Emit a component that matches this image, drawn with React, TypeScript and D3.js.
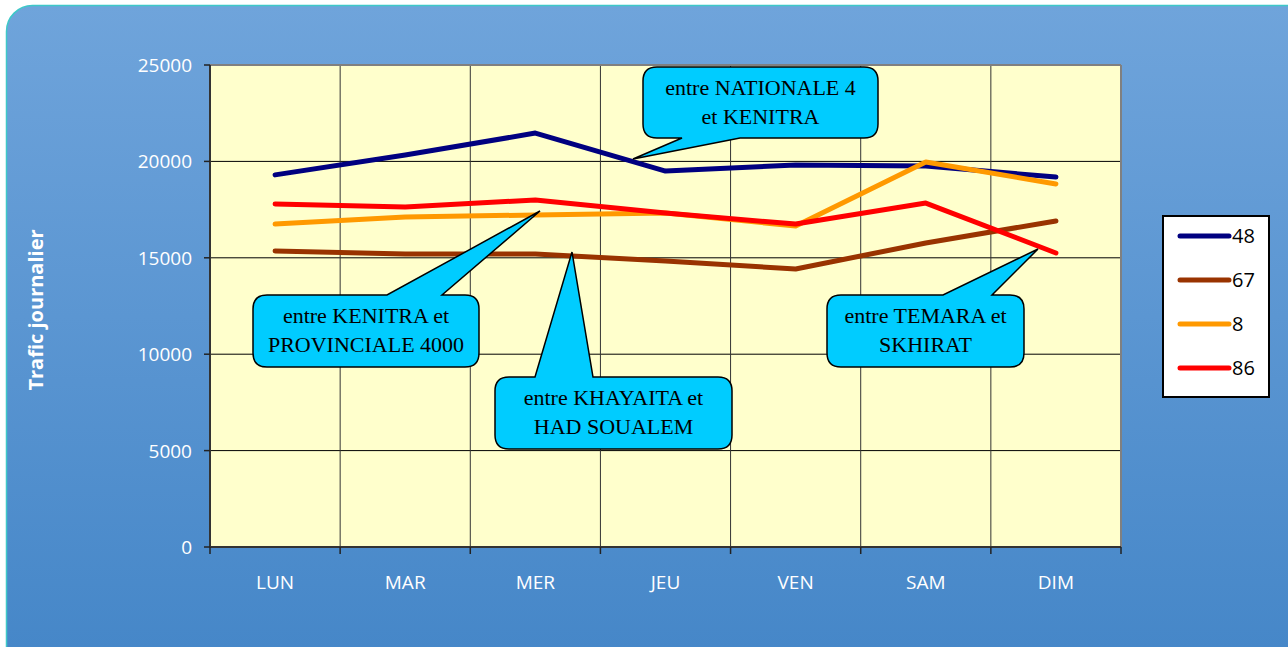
import React from "react";
import * as d3 from "d3";

const categories = ["LUN", "MAR", "MER", "JEU", "VEN", "SAM", "DIM"];
const seriesNames = ["48", "67", "8", "86"];
const values48 = [19300, 20330, 21470, 19500, 19810, 19760, 19190];
const values67 = [15350, 15200, 15200, 14830, 14420, 15770, 16910];
const values8 = [16750, 17120, 17220, 17320, 16650, 19970, 18830];
const values86 = [17790, 17630, 18000, 17320, 16750, 17840, 15250];
const yTicks = [0, 5000, 10000, 15000, 20000, 25000];
const yTitle = "Trafic journalier";
const calloutTexts = [
  ["entre NATIONALE 4", "et KENITRA"],
  ["entre KENITRA et", "PROVINCIALE 4000"],
  ["entre KHAYAITA et", "HAD SOUALEM"],
  ["entre TEMARA et", "SKHIRAT"],
];

const seriesValues = [values48, values67, values8, values86];
const colors = ["#000080", "#993300", "#FF9900", "#FF0000"];

const W = 1288;
const H = 647;
const plot = { left: 210, right: 1121, top: 65, bottom: 547 };

// callout layout: box [x0,y0,x1,y1], pointer base on edge, tip
const calloutLayout = [
  { box: [643, 67, 878, 138], edge: "bottom", b1: 682, b2: 740, tip: [633, 159] },
  { box: [253, 295, 479, 367], edge: "top", b1: 387, b2: 442, tip: [540, 211] },
  { box: [495, 377, 732, 449], edge: "top", b1: 535, b2: 593, tip: [572, 252] },
  { box: [827, 295, 1024, 367], edge: "top", b1: 943, b2: 992, tip: [1038, 249] },
];

function calloutPath(c: any): string {
  const [x0, y0, x1, y1] = c.box;
  const r = 14;
  const p = d3.path();
  p.moveTo(x0 + r, y0);
  if (c.edge === "top") {
    p.lineTo(c.b1, y0);
    p.lineTo(c.tip[0], c.tip[1]);
    p.lineTo(c.b2, y0);
  }
  p.lineTo(x1 - r, y0);
  p.quadraticCurveTo(x1, y0, x1, y0 + r);
  p.lineTo(x1, y1 - r);
  p.quadraticCurveTo(x1, y1, x1 - r, y1);
  if (c.edge === "bottom") {
    p.lineTo(c.b2, y1);
    p.lineTo(c.tip[0], c.tip[1]);
    p.lineTo(c.b1, y1);
  }
  p.lineTo(x0 + r, y1);
  p.quadraticCurveTo(x0, y1, x0, y1 - r);
  p.lineTo(x0, y0 + r);
  p.quadraticCurveTo(x0, y0, x0 + r, y0);
  p.closePath();
  return p.toString();
}

export default function App() {
  const x = d3.scaleBand<string>().domain(categories).range([plot.left, plot.right]);
  const y = d3.scaleLinear().domain([0, 25000]).range([plot.bottom, plot.top]);
  const cx = (c: string) => (x(c) as number) + x.bandwidth() / 2;
  const line = d3
    .line<number>()
    .x((_, i) => cx(categories[i]))
    .y((v) => y(v));
  const boundaries = categories.map((c) => x(c) as number).concat([plot.right]);
  const sans = "'Open Sans', 'Noto Sans', sans-serif";
  const serif = "'Liberation Serif', 'Times New Roman', serif";

  return (
    <svg
      width={W}
      height={H}
      style={{ position: "absolute", left: 0, top: 0, display: "block" }}
    >
      <defs>
        <linearGradient id="bg" x1="0" y1="0" x2="0" y2="1">
          <stop offset="0" stopColor="#6FA4DB" />
          <stop offset="1" stopColor="#4385C7" />
        </linearGradient>
      </defs>
      <rect x={0} y={0} width={W} height={H} fill="#ffffff" />
      <rect
        x={6.5}
        y={5.5}
        width={W + 40}
        height={H + 40}
        rx={26}
        ry={26}
        fill="url(#bg)"
        stroke="#3EC8C8"
        strokeWidth={1.5}
      />
      {/* plot area */}
      <rect
        x={plot.left}
        y={plot.top}
        width={plot.right - plot.left}
        height={plot.bottom - plot.top}
        fill="#FFFFCC"
      />
      {/* horizontal gridlines */}
      {yTicks.map((t) => (
        <line
          key={"h" + t}
          x1={plot.left}
          x2={plot.right}
          y1={y(t)}
          y2={y(t)}
          stroke="#000"
          strokeWidth={1}
        />
      ))}
      {/* vertical gridlines */}
      {boundaries.map((b, i) => (
        <line
          key={"v" + i}
          x1={b}
          x2={b}
          y1={plot.top}
          y2={plot.bottom}
          stroke="#333"
          strokeWidth={1}
        />
      ))}
      {/* top and right border */}
      <line x1={plot.left} x2={plot.right} y1={plot.top} y2={plot.top} stroke="#808080" strokeWidth={2} />
      <line x1={plot.right} x2={plot.right} y1={plot.top} y2={plot.bottom} stroke="#808080" strokeWidth={2} />
      {/* axes */}
      <line x1={plot.left} x2={plot.left} y1={plot.top} y2={plot.bottom} stroke="#333" strokeWidth={2} />
      <line x1={plot.left} x2={plot.right} y1={plot.bottom} y2={plot.bottom} stroke="#333" strokeWidth={2} />
      {yTicks.map((t) => (
        <g key={"yt" + t}>
          <line x1={plot.left - 6} x2={plot.left} y1={y(t)} y2={y(t)} stroke="#222" strokeWidth={1.5} />
          <text
            x={192}
            y={y(t) + 7}
            textAnchor="end"
            fill="#fff"
            fontFamily={sans}
            fontSize={19}
          >
            {t}
          </text>
        </g>
      ))}
      {boundaries.map((b, i) => (
        <line key={"xt" + i} x1={b} x2={b} y1={plot.bottom} y2={plot.bottom + 7} stroke="#222" strokeWidth={1.5} />
      ))}
      {categories.map((c) => (
        <text
          key={"xl" + c}
          x={cx(c)}
          y={589}
          textAnchor="middle"
          fill="#fff"
          fontFamily={sans}
          fontSize={19}
        >
          {c}
        </text>
      ))}
      <text
        transform={`translate(43,310) rotate(-90)`}
        textAnchor="middle"
        fill="#fff"
        fontFamily={sans}
        fontWeight="bold"
        fontSize={20}
      >
        {yTitle}
      </text>
      {/* series lines */}
      {seriesValues.map((vals, i) => (
        <path
          key={"s" + i}
          d={line(vals) as string}
          fill="none"
          stroke={colors[i]}
          strokeWidth={5}
          strokeLinecap="round"
          strokeLinejoin="round"
        />
      ))}
      {/* callouts */}
      {calloutLayout.map((c, i) => {
        const [x0, y0, x1, y1] = c.box;
        const mx = (x0 + x1) / 2;
        const my = (y0 + y1) / 2;
        return (
          <g key={"c" + i}>
            <path d={calloutPath(c)} fill="#00CCFF" stroke="#000" strokeWidth={1.5} />
            {calloutTexts[i].map((t, j) => (
              <text
                key={j}
                x={mx}
                y={my - 8 + j * 29}
                textAnchor="middle"
                fill="#000"
                fontFamily={serif}
                fontSize={22}
              >
                {t}
              </text>
            ))}
          </g>
        );
      })}
      {/* legend */}
      <rect x={1163} y={216} width={106} height={181} fill="#fff" stroke="#000" strokeWidth={2} />
      {seriesNames.map((n, i) => {
        const ly = 236 + i * 44;
        return (
          <g key={"lg" + n}>
            <line x1={1180} x2={1229} y1={ly} y2={ly} stroke={colors[i]} strokeWidth={5} strokeLinecap="round" />
            <text x={1232} y={ly + 7} fill="#000" fontFamily={sans} fontSize={20}>
              {n}
            </text>
          </g>
        );
      })}
    </svg>
  );
}
